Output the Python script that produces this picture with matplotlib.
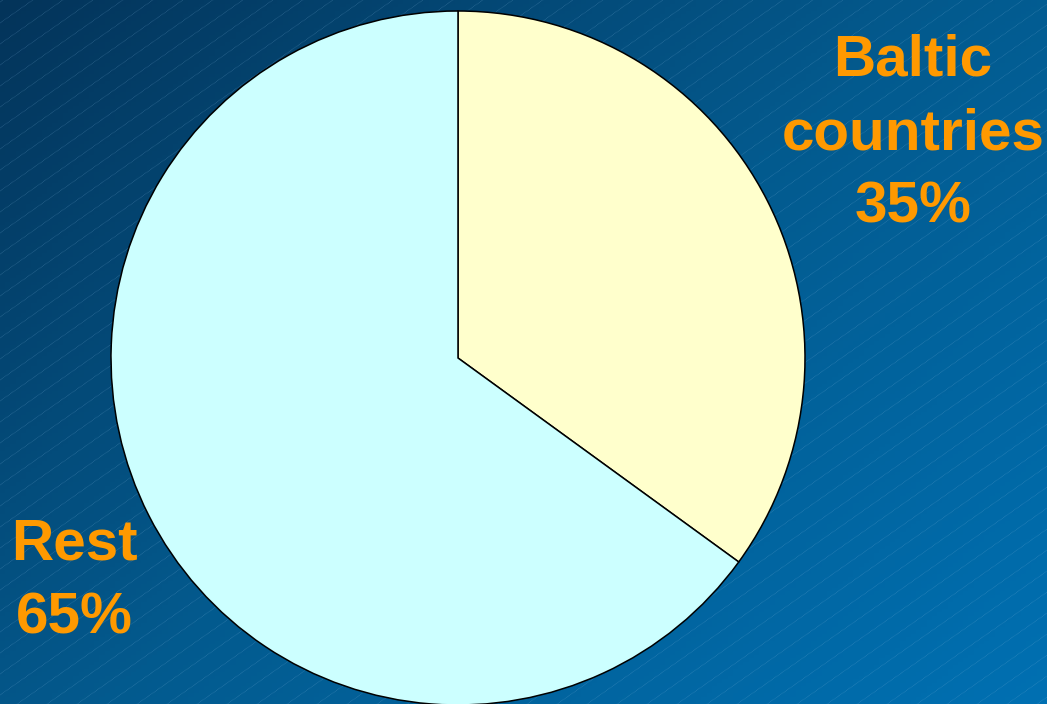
import numpy as np
import matplotlib
matplotlib.use("Agg")
import matplotlib.pyplot as plt
from matplotlib.colors import LinearSegmentedColormap

# data
labels = ["Baltic\ncountries", "Rest"]
shares = [35, 65]
colors = ["#FFFFCC", "#CCFFFF"]
label_pos = [(913, 34), (74, 518)]   # top-centre of each label block, pixel coords

W, H = 1047, 704

fig = plt.figure(figsize=(W / 100, H / 100), dpi=100)
ax = fig.add_axes([0, 0, 1, 1])

# background: diagonal blue gradient
bg = LinearSegmentedColormap.from_list("bg", ["#03345a", "#035a8e", "#0070b2"])
xx, yy = np.meshgrid(np.linspace(0, 1, 200), np.linspace(0, 1, 200))
ax.imshow((xx * 0.55 + yy * 0.45), cmap=bg, extent=[0, W, H, 0], aspect="auto", zorder=0)

# faint diagonal hatch lines
xs = np.array([0, W])
for c in np.arange(-40, H + 0.7 * W + 40, 21):
    ax.plot(xs, c - 0.7 * xs, color="#7fb4dc", lw=0.5, alpha=0.4, ls=(0, (1, 1)), zorder=1)

# pie, starting at 12 o'clock and running clockwise (y axis is flipped)
wedges, _ = ax.pie(shares, colors=colors, startangle=-90, counterclock=True,
                   center=(458, 358), radius=347, frame=True,
                   wedgeprops=dict(edgecolor="black", linewidth=1.1))
for w in wedges:
    w.set_zorder(2)
ax.set_xlim(0, W)
ax.set_ylim(H, 0)
ax.axis("off")

for lab, val, (tx, ty) in zip(labels, shares, label_pos):
    ax.text(tx, ty, f"{lab}\n{val}%", ha="center", va="top", fontsize=42,
            fontweight="bold", family="Liberation Sans", color="#FF9900",
            linespacing=1.46, zorder=3)

fig.savefig("out.png", dpi=100)
